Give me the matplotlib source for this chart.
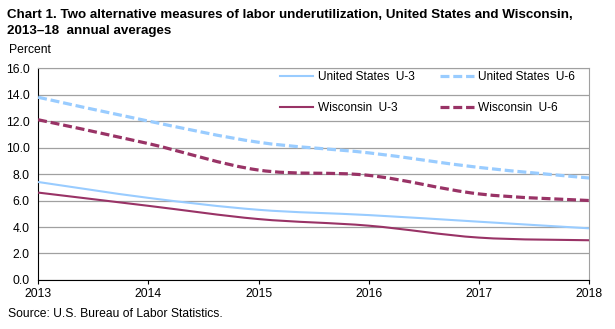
import numpy as np
import matplotlib.pyplot as plt
from matplotlib.path import Path
from matplotlib.patches import PathPatch
from matplotlib.lines import Line2D

plt.rcParams['font.family'] = ['Liberation Sans', 'DejaVu Sans']

years = [2013, 2014, 2015, 2016, 2017, 2018]
us_u3 = [7.4, 6.2, 5.3, 4.9, 4.4, 3.9]
us_u6 = [13.8, 12.0, 10.4, 9.6, 8.5, 7.7]
wi_u3 = [6.6, 5.6, 4.6, 4.1, 3.2, 3.0]
wi_u6 = [12.1, 10.3, 8.3, 7.9, 6.5, 6.0]

light_blue = '#99CCFF'
maroon = '#993366'


def smooth_path(x, y):
    # Bezier segments through the points (Catmull-Rom style tangents)
    x = np.asarray(x, float)
    y = np.asarray(y, float)
    verts = [(x[0], y[0])]
    codes = [Path.MOVETO]
    n = len(x)
    for i in range(n - 1):
        p0 = (x[max(i - 1, 0)], y[max(i - 1, 0)])
        p1 = (x[i], y[i])
        p2 = (x[i + 1], y[i + 1])
        p3 = (x[min(i + 2, n - 1)], y[min(i + 2, n - 1)])
        c1 = (p1[0] + (p2[0] - p0[0]) / 6, p1[1] + (p2[1] - p0[1]) / 6)
        c2 = (p2[0] - (p3[0] - p1[0]) / 6, p2[1] - (p3[1] - p1[1]) / 6)
        verts += [c1, c2, p2]
        codes += [Path.CURVE4] * 3
    return Path(verts, codes)


fig = plt.figure(figsize=(6.15, 3.29), dpi=100)
ax = fig.add_axes([0.062, 0.149, 0.896, 0.644])

dash = (0, (2.8, 1.2))
series = {
    'us_u3': (us_u3, light_blue, '-', 1.5, 'United States  U-3'),
    'us_u6': (us_u6, light_blue, dash, 2.3, 'United States  U-6'),
    'wi_u3': (wi_u3, maroon, '-', 1.5, 'Wisconsin  U-3'),
    'wi_u6': (wi_u6, maroon, dash, 2.3, 'Wisconsin  U-6'),
}
handles = {}
for key, (vals, color, ls, lw, label) in series.items():
    patch = PathPatch(smooth_path(years, vals), facecolor='none', edgecolor=color,
                      linestyle=ls, linewidth=lw, capstyle='butt', zorder=3)
    ax.add_patch(patch)
    handles[key] = Line2D([], [], color=color, linestyle=ls, linewidth=lw, label=label)

ax.set_xlim(2013, 2018)
ax.set_ylim(0, 16)
ax.set_xticks(years)
ticks = np.arange(0, 16.1, 2)
ax.set_yticks(ticks)
ax.set_yticklabels([f'{v:.1f}' for v in ticks])
ax.yaxis.grid(True, color='#A0A0A0', linewidth=0.9)
ax.set_axisbelow(True)
ax.tick_params(axis='both', labelsize=8.7, colors='black')
ax.tick_params(axis='y', length=0, pad=6)
ax.tick_params(axis='x', direction='out', length=3, pad=3)
for side in ['top', 'right']:
    ax.spines[side].set_color('#A0A0A0')
ax.spines['left'].set_color('black')
ax.spines['bottom'].set_color('black')

# legend fills column by column: US/WI U-3 on the left, U-6 on the right
order = ['us_u3', 'wi_u3', 'us_u6', 'wi_u6']
ax.legend(handles=[handles[k] for k in order], ncol=2, frameon=False, fontsize=8.6,
          loc='upper left', bbox_to_anchor=(0.439, 0.985),
          borderaxespad=0, borderpad=0,
          handlelength=2.8, handletextpad=0.35, columnspacing=2.15,
          labelspacing=1.55)

fig.text(0.011, 0.954, 'Chart 1. Two alternative measures of labor underutilization, United States and Wisconsin,',
         fontsize=9.6, fontweight='bold', va='center', ha='left')
fig.text(0.011, 0.905, '2013\u201318  annual averages',
         fontsize=9.6, fontweight='bold', va='center', ha='left')
fig.text(0.015, 0.848, 'Percent', fontsize=8.7, va='center', ha='left')
fig.text(0.013, 0.046, 'Source: U.S. Bureau of Labor Statistics.', fontsize=8.7, va='center', ha='left')

fig.savefig('out.png', dpi=100)
